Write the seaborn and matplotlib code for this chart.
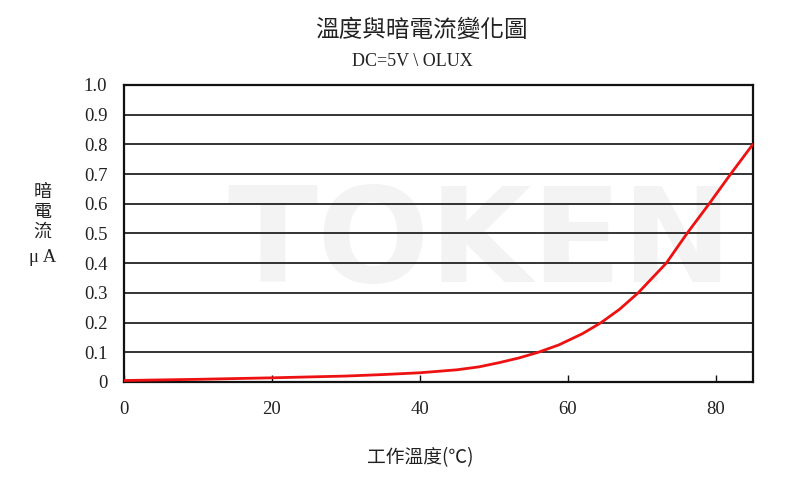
import matplotlib
matplotlib.use("Agg")
import matplotlib.pyplot as plt
import seaborn as sns
import pandas as pd

temps = [0, 10, 20, 30, 35, 40, 45, 48, 50.7, 53.4, 56, 58.8, 62, 64.5, 67, 69.5, 73.3, 76.1, 79.1, 82, 85]
current = [0.005, 0.009, 0.014, 0.02, 0.025, 0.031, 0.041, 0.051, 0.065, 0.081, 0.1, 0.125, 0.163, 0.2, 0.245, 0.3, 0.4, 0.5, 0.6, 0.7, 0.8]
x_ticks = [0, 20, 40, 60, 80]
y_ticks = [0, 0.1, 0.2, 0.3, 0.4, 0.5, 0.6, 0.7, 0.8, 0.9, 1.0]
y_tick_labels = ["0", "0.1", "0.2", "0.3", "0.4", "0.5", "0.6", "0.7", "0.8", "0.9", "1.0"]

sns.set_theme(style="white")
plt.rcParams['font.family'] = ['Liberation Serif', 'Noto Sans CJK TC', 'DejaVu Sans']
cjk = ['Noto Sans CJK TC', 'DejaVu Sans']

fig = plt.figure(figsize=(8, 4.82), dpi=100)
fig.patch.set_facecolor('white')

# faint watermark
fig.text(0.60, 0.49, "TOKEN", fontsize=95, fontweight='bold', color='#f3f3f3',
         ha='center', va='center', family='DejaVu Sans', zorder=0)

ax = fig.add_axes([0.155, 0.2075, 0.786, 0.6162])
ax.set_facecolor('none')
ax.set_zorder(2)

df = pd.DataFrame({"temp": temps, "current": current})
sns.lineplot(data=df, x="temp", y="current", ax=ax, color='#ee1111', linewidth=2.0, zorder=3)

ax.set_xlim(0, 85)
ax.set_ylim(0, 1.0)
ax.set_xticks(x_ticks)
ax.set_xticklabels([str(v) for v in x_ticks])
ax.set_yticks(y_ticks)
ax.set_yticklabels(y_tick_labels)
for yv in y_ticks[1:-1]:
    ax.axhline(yv, color='#111111', linewidth=1.2, zorder=1)

for s in ax.spines.values():
    s.set_visible(True)
    s.set_color('#111111')
    s.set_linewidth(1.6)

ax.tick_params(axis='x', direction='in', length=5, width=1, color='#111111',
               pad=14, labelsize=13.5, labelcolor='#222222', bottom=True)
ax.tick_params(axis='y', length=0, pad=12, labelsize=13.5, labelcolor='#222222', left=True)
ax.set_xlabel("")
ax.set_ylabel("")

fig.text(0.527, 0.938, "溫度與暗電流變化圖", fontsize=17, family=cjk, ha='center', va='center', color='#222222')
fig.text(0.515, 0.872, "DC=5V \\ OLUX", fontsize=13, ha='center', va='center', color='#222222')
fig.text(0.525, 0.05, "工作溫度(℃)", fontsize=13.5, family=cjk, ha='center', va='center', color='#222222')

for i, ch in enumerate(["暗", "電", "流"]):
    fig.text(0.053, 1 - (192 + i * 20) / 482, ch, fontsize=13, family=cjk, ha='center', va='center', color='#222222')
fig.text(0.053, 1 - 257 / 482, "μ A", fontsize=13.5, ha='center', va='center', color='#222222')

fig.savefig("out.png", dpi=100, facecolor='white')
